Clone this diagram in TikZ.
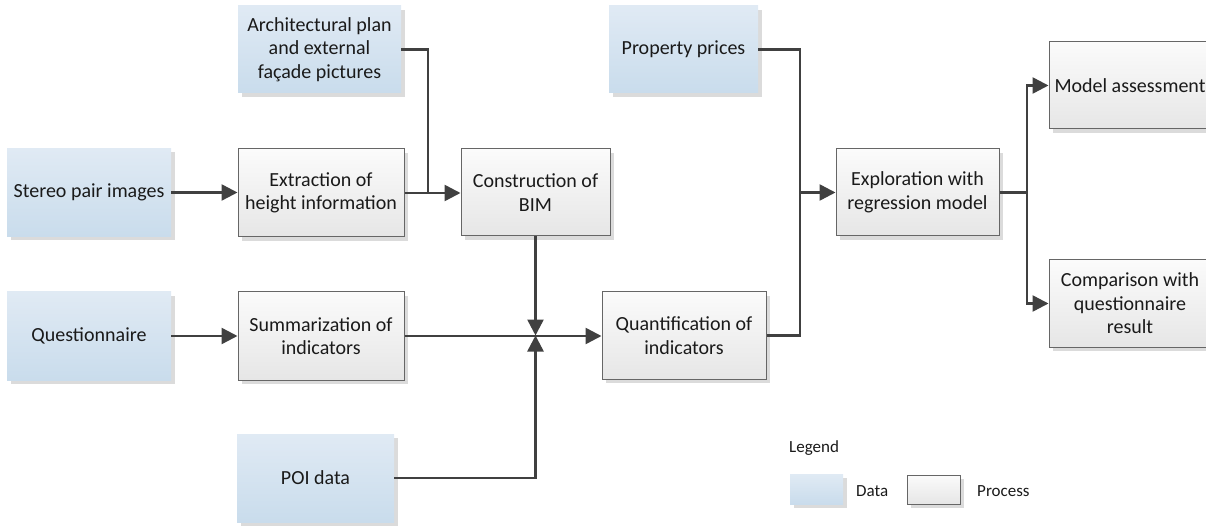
\documentclass[tikz,border=0pt]{standalone}
\usepackage{fontspec}
\setmainfont{Carlito}
\usetikzlibrary{arrows.meta,shadows}
\definecolor{linegray}{HTML}{404040}
\definecolor{datatop}{HTML}{E0EAF4}
\definecolor{databot}{HTML}{C9DCEC}
\definecolor{proctop}{HTML}{FBFBFB}
\definecolor{procbot}{HTML}{E6E6E6}
\definecolor{procborder}{HTML}{666666}
\definecolor{txt}{HTML}{1A1A1A}
\begin{document}
\begin{tikzpicture}[x=1pt,y=-1pt,
  every node/.style={text=txt,font=\fontsize{20}{23.5}\selectfont,align=center,inner sep=2pt},
  boxshadow/.style={general shadow={fill=black!14,shadow xshift=4pt,shadow yshift=-4pt}},
  databox/.style={boxshadow,top color=datatop,bottom color=databot,draw=none},
  procbox/.style={boxshadow,top color=proctop,bottom color=procbot,draw=procborder,line width=1pt},
  conn/.style={draw=linegray,line width=2.5pt},
  arr/.style={conn,-{Triangle[length=16pt,width=16pt]}},
  legtext/.style={font=\fontsize{17}{20}\selectfont}
]
\useasboundingbox (0,0) rectangle (1206,526);

% data nodes
\node[databox,minimum width=163pt,minimum height=87pt] (arch) at (319.5,49.5) {Architectural plan\\and external\\façade pictures};
\node[databox,minimum width=164pt,minimum height=88pt] (stereo) at (89,192.5) {Stereo pair images};
\node[databox,minimum width=164pt,minimum height=88pt] (quest) at (89,336) {Questionnaire};
\node[databox,minimum width=157pt,minimum height=88pt] (poi) at (315.5,478) {POI data};
\node[databox,minimum width=149pt,minimum height=87pt] (prop) at (683.5,49.5) {Property prices};

% process nodes
\node[procbox,minimum width=166pt,minimum height=88pt] (extr) at (321,193) {Extraction of\\height information};
\node[procbox,minimum width=149pt,minimum height=87pt] (constr) at (535.5,192.5) {Construction of\\BIM};
\node[procbox,minimum width=166pt,minimum height=88pt] (summ) at (321,336) {Summarization of\\indicators};
\node[procbox,minimum width=164pt,minimum height=87pt] (quant) at (684,335.5) {Quantification of\\indicators};
\node[procbox,minimum width=163pt,minimum height=87pt] (expl) at (917.5,192.5) {Exploration with\\regression model};
\node[procbox,minimum width=162pt,minimum height=87pt] (model) at (1130,85.5) {Model assessment};
\node[procbox,minimum width=162pt,minimum height=87pt] (comp) at (1130,303.5) {Comparison with\\questionnaire\\result};

% junction coordinates
\coordinate (j1) at (428,192.5);
\coordinate (j2) at (535.5,335.5);
\coordinate (j3) at (800,192.5);
\coordinate (j4) at (1027,192.5);

% connectors
\draw[arr] (stereo.east) -- (extr.west |- stereo.east);
\draw[arr] (quest.east) -- (summ.west |- quest.east);
\draw[arr] (extr.east) -- (constr.west |- extr.east);
\draw[conn] (arch.east) -| (j1);
\draw[arr] (constr.south) -- (j2);
\draw[arr] (summ.east) -- (quant.west |- summ.east);
\draw[arr] (poi.east) -| (j2);
\draw[conn] (prop.east) -| (j3);
\draw[conn] (quant.east) -| (j3);
\draw[arr] (j3) -- (expl.west);
\draw[conn] (expl.east) -- (j4);
\draw[arr] (j4) |- (model.west);
\draw[arr] (j4) |- (comp.west);

% legend
\node[legtext,anchor=west,inner sep=0pt] (legend) at (789,448) {Legend};
\node[databox,minimum width=53pt,minimum height=30pt,inner sep=0pt] (legdata) at (816.5,489) {};
\node[legtext,anchor=west,inner sep=0pt] (legdatatxt) at (856,491) {Data};
\node[procbox,minimum width=53pt,minimum height=29pt,inner sep=0pt] (legproc) at (933.5,489.5) {};
\node[legtext,anchor=west,inner sep=0pt] (legproctxt) at (977,491) {Process};
\end{tikzpicture}
\end{document}
